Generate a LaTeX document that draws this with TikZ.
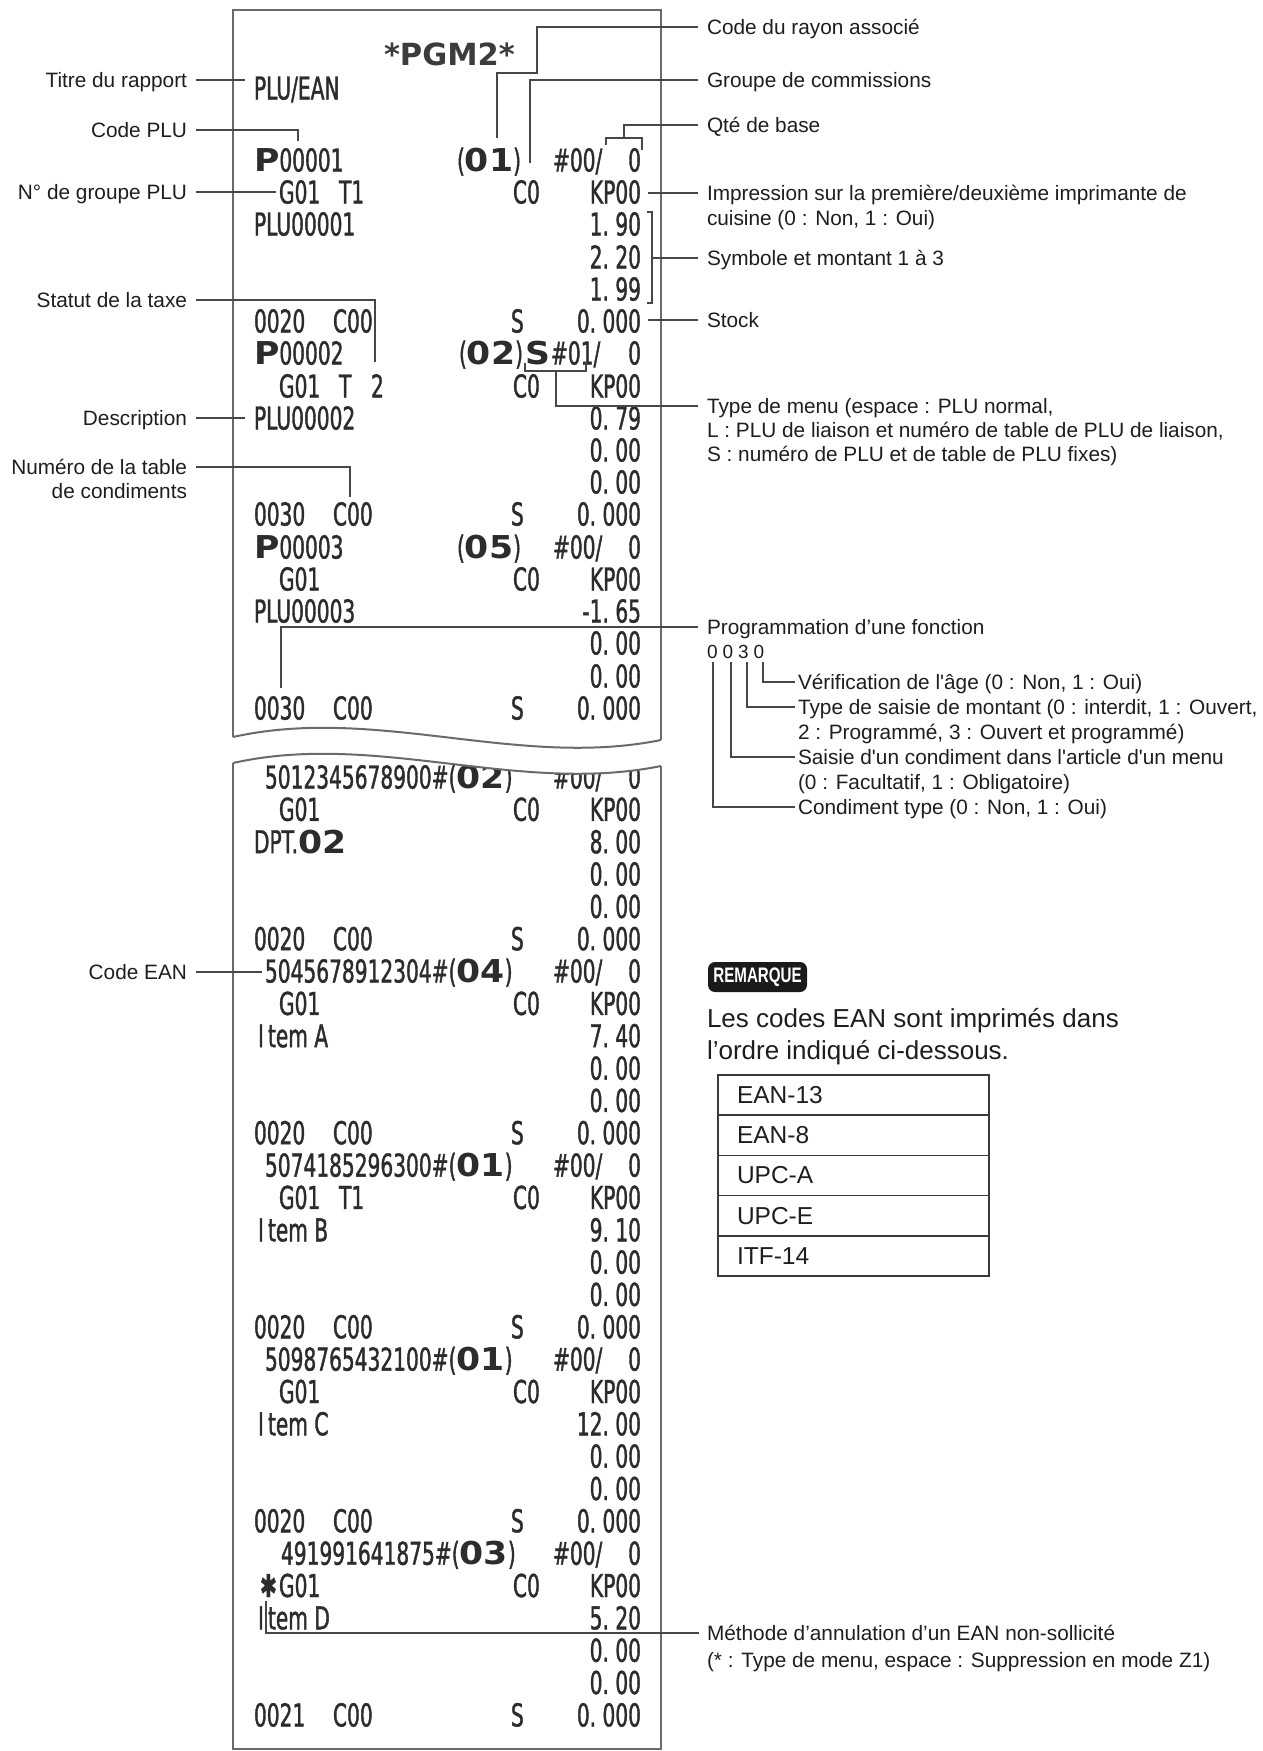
\documentclass[tikz,border=0pt]{standalone}
\usepackage{fontspec}
\setmainfont{Liberation Sans}
\newfontfamily\rcptfam[FakeStretch=0.64,FakeBold=1.2]{DejaVu Sans}
\newfontfamily\rcpbfam[FakeStretch=1.1]{DejaVu Sans}
\newfontfamily\pgmfam{DejaVu Sans}
\newfontfamily\remfam[FakeStretch=0.72]{Liberation Sans}
\definecolor{labc}{HTML}{1E1E1E}
\definecolor{rcc}{HTML}{2C2C2C}
\definecolor{pgmc}{HTML}{3C3C3C}
\definecolor{leadc}{HTML}{474747}
\definecolor{edgec}{HTML}{6A6A6A}
\definecolor{tblc}{HTML}{3A3A3A}
\definecolor{remc}{HTML}{1A1A1A}
\newcommand\rcf{\rcptfam\fontsize{31.5}{32}\selectfont}
\newcommand\bigw[1]{{\rcpbfam\bfseries\fontsize{31.5}{32}\selectfont #1}}
\newcommand\labf{\fontsize{20.8}{24}\selectfont}
\newcommand\dt{\makebox[12.8pt][l]{.}}
\newcommand\itI{\makebox[14pt][c]{I}}
\newcommand\tokL[4]{\node[rc] (#1) at (#2,#3) {#4};}
\newcommand\tokR[3]{\node[rcE] (#1) at (641,#2) {#3};}
\newcommand\rowS[3]{\tokL{#1a}{254}{#2}{#3}\tokL{#1b}{333}{#2}{C00}\tokL{#1c}{511}{#2}{S}\tokR{#1d}{#2}{0\dt 000}}
\newcommand\rowG[2]{\tokL{#1a}{279}{#2}{G01}\tokL{#1b}{513}{#2}{C0}\tokR{#1c}{#2}{KP00}}
\newcommand\rowE[5]{\tokL{#1a}{#2}{#3}{#4\#}\node[rc] (#1b) at (#1a.base east) {(\bigw{#5})};\tokL{#1c}{553}{#3}{\#00/}\tokR{#1d}{#3}{0}}
\begin{document}
\begin{tikzpicture}[x=1pt,y=-1pt,
  rc/.style={font=\rcf, text=rcc, inner sep=0pt, outer sep=0pt, anchor=base west},
  rcE/.style={rc, anchor=base east},
  lab/.style={font=\labf, text=labc, inner sep=0pt, outer sep=0pt, anchor=base west},
  labE/.style={lab, anchor=base east},
  lead/.style={draw=leadc, line width=1.4pt},
  paper/.style={draw=edgec, line width=2pt},
  cell/.style={draw=tblc, line width=1.5pt, minimum width=271pt, minimum height=40.2pt,
    inner xsep=19pt, inner ysep=0pt, outer sep=0pt, text width=233pt, align=left,
    font=\fontsize{24.5}{26}\selectfont, text=labc, anchor=north west}]
\useasboundingbox (0,0) rectangle (1262,1751);
\fill[white] (0,0) rectangle (1262,1751);

% ---------- receipt, upper part ----------
\node[rc, font=\pgmfam\bfseries\fontsize{30.5}{30}\selectfont, text=pgmc] (pgm) at (384,65) {*PGM2*};
\tokL{u1}{254}{99.5}{PLU/EAN}
\tokL{u3a}{254}{171.5}{\bigw{P}00001}
\node[rcE] (u3b) at (521,171.5) {(\bigw{01})};
\tokL{u3c}{553}{171.5}{\#00/}
\tokR{u3d}{171.5}{0}
\tokL{u4a}{279}{203.5}{G01}\tokL{u4t}{339}{203.5}{T1}\tokL{u4b}{513}{203.5}{C0}\tokR{u4c}{203.5}{KP00}
\tokL{u5a}{254}{235.5}{PLU00001}\tokR{u5b}{235.5}{1\dt 90}
\tokR{u6}{268.5}{2\dt 20}
\tokR{u7}{300.5}{1\dt 99}
\rowS{u8}{332.5}{0020}
\tokL{u9a}{254}{364.5}{\bigw{P}00002}
\node[rcE] (u9b) at (523,364.5) {(\bigw{02})};
\tokL{u9s}{525}{364.5}{\bigw{S}}
\tokL{u9c}{551}{364.5}{\#01/}
\tokR{u9d}{364.5}{0}
\tokL{u10a}{279}{397.5}{G01}\tokL{u10t}{339}{397.5}{T}\tokL{u10u}{371}{397.5}{2}\tokL{u10b}{513}{397.5}{C0}\tokR{u10c}{397.5}{KP00}
\tokL{u11a}{254}{429.5}{PLU00002}\tokR{u11b}{429.5}{0\dt 79}
\tokR{u12}{461.5}{0\dt 00}
\tokR{u13}{493.5}{0\dt 00}
\rowS{u14}{525.5}{0030}
\tokL{u15a}{254}{558.5}{\bigw{P}00003}
\node[rcE] (u15b) at (521,558.5) {(\bigw{05})};
\tokL{u15c}{553}{558.5}{\#00/}
\tokR{u15d}{558.5}{0}
\rowG{u16}{590.5}
\tokL{u17a}{254}{622.5}{PLU00003}\tokR{u17b}{622.5}{-1\dt 65}
\tokR{u18}{654.5}{0\dt 00}
\tokR{u19}{687.5}{0\dt 00}
\rowS{u20}{719.5}{0030}

% ---------- receipt, lower part ----------
\rowE{k0}{265}{788.5}{5012345678900}{02}
\rowG{k1}{820.8}
\tokL{k2a}{254}{853.2}{DPT.\bigw{02}}\tokR{k2b}{853.2}{8\dt 00}
\tokR{k3}{885.5}{0\dt 00}
\tokR{k4}{917.9}{0\dt 00}
\rowS{k5}{950.2}{0020}
\rowE{k6}{265}{982.5}{5045678912304}{04}
\rowG{k7}{1014.9}
\tokL{k8a}{254}{1047.2}{\itI tem A}\tokR{k8b}{1047.2}{7\dt 40}
\tokR{k9}{1079.6}{0\dt 00}
\tokR{k10}{1111.9}{0\dt 00}
\rowS{k11}{1144.2}{0020}
\rowE{k12}{265}{1176.6}{5074185296300}{01}
\tokL{k13a}{279}{1208.9}{G01}\tokL{k13t}{339}{1208.9}{T1}\tokL{k13b}{513}{1208.9}{C0}\tokR{k13c}{1208.9}{KP00}
\tokL{k14a}{254}{1241.3}{\itI tem B}\tokR{k14b}{1241.3}{9\dt 10}
\tokR{k15}{1273.6}{0\dt 00}
\tokR{k16}{1305.9}{0\dt 00}
\rowS{k17}{1338.3}{0020}
\rowE{k18}{265}{1370.6}{5098765432100}{01}
\rowG{k19}{1403.0}
\tokL{k20a}{254}{1435.3}{\itI tem C}\tokR{k20b}{1435.3}{12\dt 00}
\tokR{k21}{1467.6}{0\dt 00}
\tokR{k22}{1500.0}{0\dt 00}
\rowS{k23}{1532.3}{0020}
\rowE{k24}{281}{1564.7}{491991641875}{03}
\tokL{k25s}{260}{1597.0}{✱}\tokL{k25a}{279}{1597.0}{G01}\tokL{k25b}{513}{1597.0}{C0}\tokR{k25c}{1597.0}{KP00}
\tokL{k26a}{254}{1629.3}{\itI tem D}\tokR{k26b}{1629.3}{5\dt 20}
\tokR{k27}{1661.7}{0\dt 00}
\tokR{k28}{1694.0}{0\dt 00}
\rowS{k29}{1726.4}{0021}

% ---------- paper edges and tear ----------
\fill[white] (233,763) .. controls (376,731) and (518,795) .. (661,766) -- (661,748) -- (233,748) -- cycle;
\draw[paper] (233,737) -- (233,10) -- (661,10) -- (661,740);
\draw[paper] (233,737) .. controls (376,705) and (518,769) .. (661,740);
\draw[paper] (233,763) .. controls (376,731) and (518,795) .. (661,766);
\draw[paper] (233,763) -- (233,1749) -- (661,1749) -- (661,766);

% ---------- left labels ----------
\node[labE] (lTitre) at (187,87.5) {Titre du rapport};
\node[labE] (lCplu) at (187,137.5) {Code PLU};
\node[labE] (lGrp) at (187,199.5) {N° de groupe PLU};
\node[labE] (lTaxe) at (187,307.5) {Statut de la taxe};
\node[labE] (lDesc) at (187,425.5) {Description};
\node[labE] (lCond1) at (187,474.5) {Numéro de la table};
\node[labE] (lCond2) at (187,498.5) {de condiments};
\node[labE] (lEan) at (187,979.5) {Code EAN};

\coordinate (tA) at (196,80);   \coordinate (tB) at (245,80);
\coordinate (cA) at (196,130);  \coordinate (cB) at (298,141);
\coordinate (gA) at (196,192);  \coordinate (gB) at (276,192);
\coordinate (sA) at (196,300);  \coordinate (sB) at (375,362);
\coordinate (dA) at (196,418);  \coordinate (dB) at (245,418);
\coordinate (nA) at (196,467);  \coordinate (nB) at (350,497);
\coordinate (eA) at (196,972);  \coordinate (eB) at (262,972);
\draw[lead] (tA) -- (tB);
\draw[lead] (cA) -| (cB);
\draw[lead] (gA) -- (gB);
\draw[lead] (sA) -| (sB);
\draw[lead] (dA) -- (dB);
\draw[lead] (nA) -| (nB);
\draw[lead] (eA) -- (eB);

% ---------- right labels ----------
\node[lab] (rRay) at (707,34.5) {Code du rayon associé};
\node[lab] (rGrp) at (707,87) {Groupe de commissions};
\node[lab] (rQte) at (707,132.5) {Qté de base};
\node[lab] (rImp1) at (707,200.5) {Impression sur la première/deuxième imprimante de};
\node[lab] (rImp2) at (707,225.5) {cuisine (0 : Non, 1 : Oui)};
\node[lab] (rSym) at (707,265.5) {Symbole et montant 1 à 3};
\node[lab] (rStk) at (707,327.5) {Stock};
\node[lab] (rMen1) at (707,413.5) {Type de menu (espace : PLU normal,};
\node[lab] (rMen2) at (707,437.5) {L : PLU de liaison et numéro de table de PLU de liaison,};
\node[lab] (rMen3) at (707,461.5) {S : numéro de PLU et de table de PLU fixes)};
\node[lab] (rPrg) at (707,634.5) {Programmation d’une fonction};
\node[lab, font=\fontsize{19}{22}\selectfont] (rDig) at (707,658) {\spaceskip=5pt 0 0 3 0};
\node[lab] (rV) at (798,689.5) {Vérification de l\textquotesingle âge (0 : Non, 1 : Oui)};
\node[lab] (rT1) at (798,714.5) {Type de saisie de montant (0 : interdit, 1 : Ouvert,};
\node[lab] (rT2) at (798,739.5) {2 : Programmé, 3 : Ouvert et programmé)};
\node[lab] (rS1) at (798,764.5) {Saisie d\textquotesingle un condiment dans l\textquotesingle article d\textquotesingle un menu};
\node[lab] (rS2) at (798,789.5) {(0 : Facultatif, 1 : Obligatoire)};
\node[lab] (rC) at (798,814.5) {Condiment type (0 : Non, 1 : Oui)};
\node[lab] (rM1) at (707,1640.5) {Méthode d’annulation d’un EAN non-sollicité};
\node[lab] (rM2) at (707,1667.5) {(* : Type de menu, espace : Suppression en mode Z1)};

\coordinate (rayA) at (497,138); \coordinate (rayM) at (537,73); \coordinate (rayB) at (698,27);
\draw[lead] (rayA) |- (rayM) |- (rayB);
\coordinate (grpA) at (530,163); \coordinate (grpB) at (698,80);
\draw[lead] (grpA) |- (grpB);
\coordinate (qA) at (606,145); \coordinate (qB) at (642,138); \coordinate (qC) at (642,150);
\draw[lead] (qA) |- (qB) -- (qC);
\coordinate (qD) at (624,138); \coordinate (qE) at (698,125);
\draw[lead] (qD) |- (qE);
\coordinate (kpA) at (648,193); \coordinate (kpB) at (698,193);
\draw[lead] (kpA) -- (kpB);
\coordinate (smA) at (647,212); \coordinate (smB) at (652,303); \coordinate (smC) at (647,303);
\draw[lead] (smA) -| (smB) -- (smC);
\coordinate (smD) at (652,258); \coordinate (smE) at (698,258);
\draw[lead] (smD) -- (smE);
\coordinate (stA) at (648,320); \coordinate (stB) at (698,320);
\draw[lead] (stA) -- (stB);
\coordinate (mnA) at (525,363); \coordinate (mnB) at (586,371); \coordinate (mnC) at (586,362);
\draw[lead] (mnA) |- (mnB) -- (mnC);
\coordinate (mnD) at (556,371); \coordinate (mnE) at (698,406);
\draw[lead] (mnD) |- (mnE);
\coordinate (pgA) at (281,688); \coordinate (pgB) at (698,627);
\draw[lead] (pgA) |- (pgB);
\coordinate (vA) at (763,662); \coordinate (vB) at (795,682);
\draw[lead] (vA) |- (vB);
\coordinate (wA) at (747,662); \coordinate (wB) at (795,707);
\draw[lead] (wA) |- (wB);
\coordinate (xA) at (731,662); \coordinate (xB) at (795,757);
\draw[lead] (xA) |- (xB);
\coordinate (yA) at (713,662); \coordinate (yB) at (795,807);
\draw[lead] (yA) |- (yB);
\coordinate (anA) at (266,1601); \coordinate (anB) at (699,1633);
\draw[lead] (anA) |- (anB);

% ---------- note ----------
\node[fill=remc, rounded corners=7pt, text=white, font=\remfam\bfseries\fontsize{21}{21}\selectfont,
  minimum width=99pt, minimum height=30pt, inner sep=0pt] (rem) at (757.5,977) {REMARQUE};
\node[lab, font=\fontsize{26}{30}\selectfont] (note1) at (707,1027.3) {Les codes EAN sont imprimés dans};
\node[lab, font=\fontsize{26}{30}\selectfont] (note2) at (707,1059.3) {l’ordre indiqué ci-dessous.};
\node[cell] (t1) at (718,1075) {EAN-13};
\node[cell] (t2) at (t1.south west) {EAN-8};
\node[cell] (t3) at (t2.south west) {UPC-A};
\node[cell] (t4) at (t3.south west) {UPC-E};
\node[cell] (t5) at (t4.south west) {ITF-14};
\draw[draw=tblc, line width=2.2pt] (t1.north west) rectangle (t5.south east);
\end{tikzpicture}
\end{document}
